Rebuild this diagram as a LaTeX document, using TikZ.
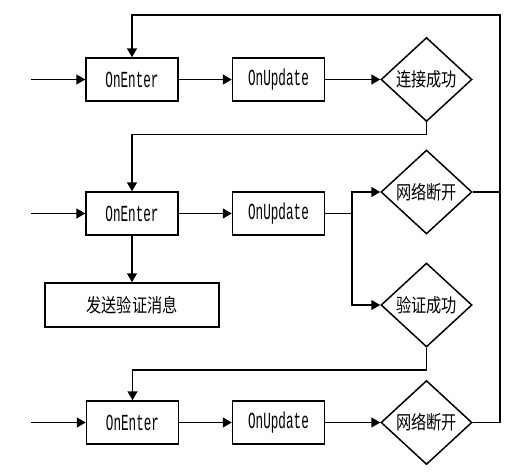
\documentclass[tikz,border=0pt]{standalone}
\usepackage{fontspec}
\usetikzlibrary{shapes.geometric,arrows.meta}
\newfontfamily\latfont[FakeStretch=0.55]{Liberation Mono}
\newfontfamily\cjkfont[FakeStretch=0.8]{Noto Sans CJK SC}
\tikzset{
  x=1pt,y=-1pt,
  box/.style={draw,line width=1.5pt,minimum width=92pt,minimum height=43pt,inner sep=0pt,font=\latfont\fontsize{23}{23}\selectfont},
  cbox/.style={draw,line width=1.5pt,minimum width=174pt,minimum height=44pt,inner sep=0pt,font=\cjkfont\fontsize{19}{19}\selectfont},
  dia/.style={draw,diamond,line width=1.5pt,minimum width=91pt,minimum height=84pt,inner sep=0pt,aspect=1.08,font=\cjkfont\fontsize{19}{19}\selectfont},
  arr/.style={line width=1.5pt,-{Triangle[length=9pt,width=10pt]}},
  ln/.style={line width=1.5pt}
}
\begin{document}
\begin{tikzpicture}
\useasboundingbox (0,0) rectangle (521,474);
% row 1
\node[box] (e1) at (132,79.5) {OnEnter};
\node[box] (u1) at (278.5,79.5) {OnUpdate};
\node[dia] (d1) at (426.5,79.5) {连接成功};
% row 2
\node[box] (e2) at (132,213.5) {OnEnter};
\node[box] (u2) at (278.5,213.5) {OnUpdate};
\node[dia] (d2) at (426.5,192) {网络断开};
\node[dia] (d3) at (426.5,305) {验证成功};
\node[cbox] (s) at (132,305) {发送验证消息};
% row 3
\node[box] (e3) at (132.5,422.5) {OnEnter};
\node[box] (u3) at (278.5,422.5) {OnUpdate};
\node[dia] (d4) at (426.5,422.5) {网络断开};
% free ends
\coordinate (in1) at (31,79.5);
\coordinate (in2) at (31,213.5);
\coordinate (in3) at (31,422.5);
\coordinate (tr) at (500,15);
\coordinate (br) at (352,213.5);
% connectors
\draw[arr] (in1) -- (e1.west);
\draw[arr] (e1) -- (u1);
\draw[arr] (u1) -- (d1.west);
\draw[arr] (d1.south) -- ++(0,12) -| (e2.north);
\draw[arr] (in2) -- (e2.west);
\draw[arr] (e2) -- (u2);
\draw[ln] (u2.east) -- (br);
\draw[arr] (br) |- (d2.west);
\draw[arr] (br) |- (d3.west);
\draw[arr] (e2) -- (s);
\draw[arr] (d3.south) -- ++(0,22) -| (e3.north);
\draw[arr] (in3) -- (e3.west);
\draw[arr] (e3) -- (u3);
\draw[arr] (u3) -- (d4.west);
\draw[ln] (d2.east) -- (d2.east -| tr);
\draw[arr] (d4.east) -| (tr) -| (e1.north);
\end{tikzpicture}
\end{document}
